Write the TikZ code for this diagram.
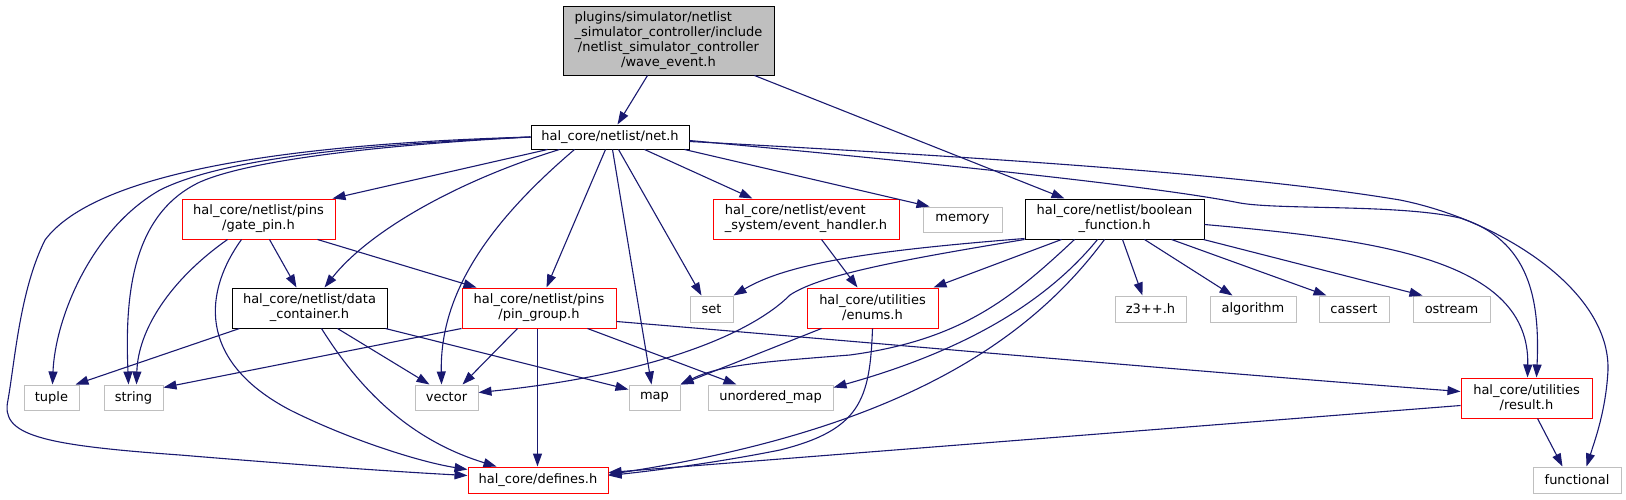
\documentclass[tikz,border=0pt]{standalone}
\usepackage{fontspec}
\setmainfont{DejaVu Sans}
\usetikzlibrary{arrows.meta,calc}
\definecolor{edgeblue}{HTML}{191970}
\definecolor{grey75}{HTML}{BFBFBF}
\definecolor{boxred}{HTML}{FF0000}
\begin{document}
\begin{tikzpicture}[x=1pt,y=-1pt,
  nbox/.style={rectangle,inner sep=0pt,align=center,fill=white,font=\fontsize{13pt}{15pt}\selectfont,line width=1pt},
  blk/.style={nbox,draw=black},
  rbox/.style={nbox,draw=boxred},
  gbox/.style={nbox,draw=grey75},
  dep/.style={draw=edgeblue,line width=1.1pt,-{Triangle[length=13pt,width=9pt]}}
]
\useasboundingbox (0,0) rectangle (1626,499);

% nodes
\node[blk,fill=grey75,minimum width=211pt,minimum height=69pt] (wave) at (668.5,40.5)
  {\rlap{plugins/simulator/netlist}\phantom{\_simulator\_controller/include}\\\_simulator\_controller/include\\/netlist\_simulator\_controller\\/wave\_event.h};
\node[blk,minimum width=158pt,minimum height=24pt] (net) at (610,137) {hal\_core/netlist/net.h};
\node[rbox,minimum width=153pt,minimum height=40pt] (gp) at (258.5,219) {hal\_core/netlist/pins\\/gate\_pin.h};
\node[blk,minimum width=155pt,minimum height=40pt] (dc) at (309.5,308) {hal\_core/netlist/data\\\_container.h};
\node[rbox,minimum width=154pt,minimum height=40pt] (pg) at (539,308) {hal\_core/netlist/pins\\/pin\_group.h};
\node[rbox,minimum width=186pt,minimum height=40pt] (eh) at (806,219)
  {\rlap{hal\_core/netlist/event}\phantom{\_system/event\_handler.h}\\\_system/event\_handler.h};
\node[gbox,minimum width=79pt,minimum height=25pt] (mem) at (962.5,219.5) {memory};
\node[blk,minimum width=179pt,minimum height=40pt] (bf) at (1114.5,219) {hal\_core/netlist/boolean\\\_function.h};
\node[gbox,minimum width=43pt,minimum height=26pt] (set) at (711.5,309) {set};
\node[rbox,minimum width=131pt,minimum height=40pt] (en) at (872.5,308) {hal\_core/utilities\\/enums.h};
\node[gbox,minimum width=71pt,minimum height=26pt] (z3) at (1150.5,309) {z3++.h};
\node[gbox,minimum width=86pt,minimum height=26pt] (alg) at (1253,309) {algorithm};
\node[gbox,minimum width=70pt,minimum height=26pt] (cas) at (1354,309) {cassert};
\node[gbox,minimum width=77pt,minimum height=26pt] (ost) at (1451.5,309) {ostream};
\node[gbox,minimum width=55pt,minimum height=25pt] (tup) at (51.5,397.5) {tuple};
\node[gbox,minimum width=59pt,minimum height=25pt] (str) at (133.5,397.5) {string};
\node[gbox,minimum width=63pt,minimum height=25pt] (vec) at (446.5,397.5) {vector};
\node[gbox,minimum width=51pt,minimum height=25pt] (map) at (654.5,397.5) {map};
\node[gbox,minimum width=125pt,minimum height=25pt] (umap) at (770.5,397.5) {unordered\_map};
\node[rbox,minimum width=131pt,minimum height=40pt] (res) at (1526.5,398) {hal\_core/utilities\\/result.h};
\node[rbox,minimum width=140pt,minimum height=26pt] (def) at (538,480) {hal\_core/defines.h};
\node[gbox,minimum width=88pt,minimum height=26pt] (fun) at (1577,480) {functional};

% edges from wave_event
\draw[dep] ($(wave.south west)+(85,0)$) -- ($(net.north west)+(87,0)$);
\draw[dep] ($(wave.south west)+(192,0)$) -- ($(bf.north west)+(40,0)$);

% edges from net.h
\draw[dep] ($(net.south west)+(17,0)$) -- ($(gp.north east)+(-3,0)$);
\draw[dep] ($(net.south west)+(29,0)$) .. controls (460,180) and (370,230) .. ($(dc.north west)+(93,0)$);
\draw[dep] ($(net.south west)+(44,0)$) .. controls (480,230) and (440,300) .. ($(vec.north west)+(27,0)$);
\draw[dep] ($(net.south west)+(75,0)$) -- ($(pg.north west)+(85,0)$);
\draw[dep] ($(net.south west)+(82,0)$) -- ($(map.north west)+(23,0)$);
\draw[dep] ($(net.south west)+(88,0)$) -- ($(set.north west)+(12,0)$);
\draw[dep] ($(net.south west)+(114,0)$) -- ($(eh.north west)+(40,0)$);
\draw[dep] ($(net.south west)+(154,0)$) -- ($(mem.north west)+(7,0)$);
\draw[dep] ($(net.north east)+(0,16)$) .. controls (900,160) and (1150,185) .. (1240,203)
  .. controls (1280,210) and (1400,204) .. (1460,218)
  .. controls (1530,240) and (1540,300) .. ($(res.north west)+(76,0)$);
\draw[dep] ($(net.north east)+(0,17)$) .. controls (1000,158) and (1250,175) .. (1400,200)
  .. controls (1500,220) and (1610,290) .. (1608,370)
  .. controls (1606,410) and (1595,440) .. ($(fun.north west)+(54,0)$);
\draw[dep] (net.west) .. controls (250,145) and (90,180) .. (45,240)
  .. controls (20,290) and (15,360) .. (8,400)
  .. controls (0,435) and (40,445) .. (180,455)
  .. controls (300,465) and (400,472) .. ($(def.north west)+(0,9)$);
\draw[dep] (net.west) .. controls (350,145) and (220,160) .. (160,190)
  .. controls (90,230) and (55,320) .. ($(tup.north west)+(29,0)$);
\draw[dep] (net.west) .. controls (380,145) and (250,160) .. (200,182)
  .. controls (130,215) and (125,300) .. ($(str.north west)+(25,0)$);

% edges from gate_pin.h
\draw[dep] ($(gp.south west)+(88,0)$) -- ($(dc.north west)+(65,0)$);
\draw[dep] ($(gp.south west)+(136,0)$) -- ($(pg.north west)+(15,0)$);
\draw[dep] ($(gp.south west)+(46,0)$) .. controls (170,280) and (138,330) .. ($(str.north west)+(33,0)$);
\draw[dep] ($(gp.south west)+(60,0)$) .. controls (205,290) and (195,360) .. (290,410)
  .. controls (350,440) and (420,462) .. ($(def.north west)+(0,3)$);

% edges from data_container.h
\draw[dep] ($(dc.south west)+(8,0)$) -- ($(tup.north east)+(-4,0)$);
\draw[dep] ($(dc.south west)+(106,0)$) -- ($(vec.north west)+(15,0)$);
\draw[dep] ($(dc.south east)+(-2,0)$) -- ($(map.north west)+(0,5)$);
\draw[dep] ($(dc.south west)+(90,0)$) .. controls (360,390) and (410,440) .. ($(def.north west)+(29,0)$);

% edges from pin_group.h
\draw[dep] (pg.south west) -- ($(str.north east)+(0,3)$);
\draw[dep] ($(pg.south west)+(56,0)$) -- ($(vec.north west)+(48,0)$);
\draw[dep] ($(pg.south west)+(76,0)$) -- ($(def.north west)+(70,0)$);
\draw[dep] ($(pg.south west)+(126,0)$) -- ($(umap.north west)+(29,0)$);
\draw[dep] ($(pg.north east)+(0,34)$) .. controls (900,345) and (1200,372) .. ($(res.north west)+(0,14)$);

% event_handler.h
\draw[dep] ($(eh.south west)+(109,0)$) -- ($(en.north west)+(51,0)$);

% enums.h
\draw[dep] ($(en.south west)+(15,0)$) -- (map.north east);
\draw[dep] ($(en.south west)+(66,0)$) .. controls (870,400) and (860,430) .. (780,450)
  .. controls (720,462) and (660,470) .. ($(def.north east)+(0,9)$);

% boolean_function.h
\draw[dep] ($(bf.south west)+(0,-1)$) .. controls (880,250) and (790,262) .. (set.north east);
\draw[dep] (bf.south west) .. controls (900,260) and (820,275) .. (790,295)
  .. controls (750,335) and (650,375) .. ($(vec.north east)+(0,8)$);
\draw[dep] ($(bf.south west)+(37,0)$) -- ($(en.north east)+(-5,0)$);
\draw[dep] ($(bf.south west)+(50,0)$) .. controls (1010,300) and (960,340) .. (850,355)
  .. controls (760,362) and (720,365) .. (map.north east);
\draw[dep] ($(bf.south west)+(73,0)$) .. controls (1040,310) and (950,355) .. ($(umap.north east)+(0,3)$);
\draw[dep] ($(bf.south west)+(80,0)$) .. controls (1030,340) and (900,430) .. ($(def.north east)+(0,8)$);
\draw[dep] ($(bf.south west)+(98,0)$) -- ($(z3.north west)+(28,0)$);
\draw[dep] ($(bf.south west)+(120,0)$) -- ($(alg.north west)+(23,0)$);
\draw[dep] ($(bf.south west)+(147,0)$) -- ($(cas.north west)+(8,0)$);
\draw[dep] ($(bf.south east)+(-1,0)$) -- ($(ost.north west)+(10,0)$);
\draw[dep] ($(bf.north east)+(0,26)$) .. controls (1380,240) and (1530,260) .. ($(res.north west)+(67,0)$);

% result.h
\draw[dep] ($(res.south west)+(0,-13)$) -- ($(def.north east)+(0,6)$);
\draw[dep] ($(res.south west)+(77,0)$) -- ($(fun.north west)+(30,0)$);
\end{tikzpicture}
\end{document}
